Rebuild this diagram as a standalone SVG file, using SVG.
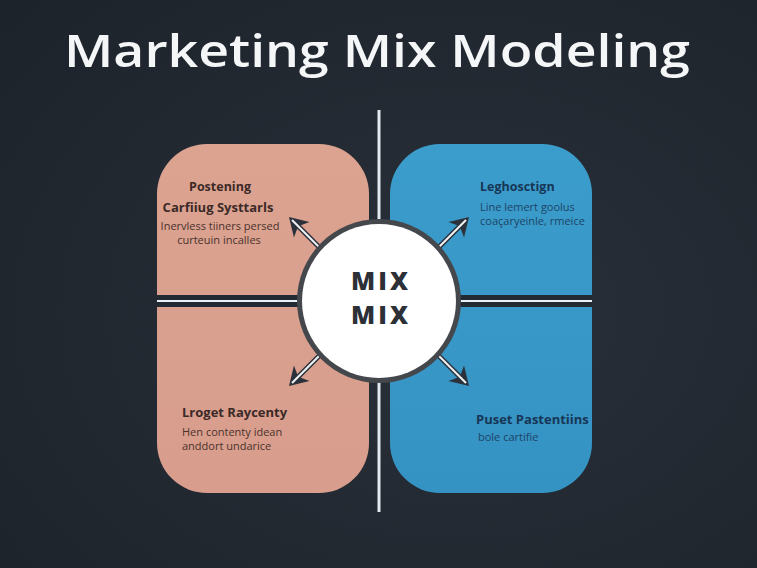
<svg xmlns="http://www.w3.org/2000/svg" width="757" height="568" viewBox="0 0 757 568">
  <defs>
    <radialGradient id="bg" cx="0.6" cy="0.55" r="0.8">
      <stop offset="0" stop-color="#2a3039"/>
      <stop offset="1" stop-color="#1d232b"/>
    </radialGradient>
    <linearGradient id="pink" x1="0" y1="0" x2="0" y2="1">
      <stop offset="0" stop-color="#dca391"/>
      <stop offset="1" stop-color="#d89d8c"/>
    </linearGradient>
    <linearGradient id="blue" x1="0" y1="0" x2="0" y2="1">
      <stop offset="0" stop-color="#3b9dcc"/>
      <stop offset="1" stop-color="#3593c3"/>
    </linearGradient>
    <path id="ah" d="M0,0 L-18,-11 L-13,0 L-18,11 z" fill="#2b323b"/>
    <style>
      .title { font-family: "Open Sans", "Liberation Sans", sans-serif; font-weight: 600; fill: #f4f6f8; }
      .hL { font-family: "Open Sans", "Liberation Sans", sans-serif; font-weight: 700; fill: #3b2a27; }
      .bL { font-family: "Open Sans", "Liberation Sans", sans-serif; font-weight: 400; fill: #4a322c; font-size: 11px; }
      .hR { font-family: "Open Sans", "Liberation Sans", sans-serif; font-weight: 700; fill: #173656; }
      .bR { font-family: "Open Sans", "Liberation Sans", sans-serif; font-weight: 400; fill: #1d4468; font-size: 11px; }
      .mix { font-family: "Open Sans", "Liberation Sans", sans-serif; font-weight: 800; fill: #2d3037; font-size: 25px; letter-spacing: 3px; }
      .arrowOut { stroke: #2b323b; stroke-width: 5; fill: none; }
      .arrowIn { stroke: #f2f4f6; stroke-width: 2; fill: none; }
    </style>
  </defs>

  <rect x="0" y="0" width="757" height="568" fill="url(#bg)"/>

  <g id="title">
    <text class="title" x="377" y="67" font-size="46" text-anchor="middle" textLength="626" lengthAdjust="spacingAndGlyphs">Marketing Mix  Modeling</text>
  </g>

  <g id="panel-left">
    <rect x="157" y="144" width="212" height="349" rx="50" ry="50" fill="url(#pink)"/>
  </g>
  <g id="panel-right">
    <rect x="390" y="144" width="202" height="349" rx="50" ry="50" fill="url(#blue)"/>
  </g>

  <g id="dividers">
    <rect x="157" y="295" width="435" height="12" fill="#232a33"/>
    <line x1="157" y1="301" x2="592" y2="301" stroke="#eef2f6" stroke-width="2"/>
    <line x1="379" y1="110" x2="379" y2="512" stroke="#e3e9f0" stroke-width="3"/>
  </g>

  <g id="connectors">
    <line class="arrowOut" x1="322" y1="250" x2="296" y2="224"/>
    <use href="#ah" transform="translate(289,217) rotate(-135)"/>
    <line class="arrowIn" x1="322" y1="250" x2="292" y2="220"/>

    <line class="arrowOut" x1="436" y1="250" x2="462" y2="224"/>
    <use href="#ah" transform="translate(469,217) rotate(-45)"/>
    <line class="arrowIn" x1="436" y1="250" x2="466" y2="220"/>

    <line class="arrowOut" x1="322" y1="353" x2="296" y2="379"/>
    <use href="#ah" transform="translate(289,386) rotate(135)"/>
    <line class="arrowIn" x1="322" y1="353" x2="292" y2="383"/>

    <line class="arrowOut" x1="436" y1="353" x2="462" y2="379"/>
    <use href="#ah" transform="translate(469,386) rotate(45)"/>
    <line class="arrowIn" x1="436" y1="353" x2="466" y2="383"/>
  </g>

  <g id="center">
    <circle cx="379" cy="301" r="82" fill="#44474c"/>
    <circle cx="379" cy="301" r="77" fill="#ffffff"/>
    <text class="mix" x="381" y="290" text-anchor="middle">MIX</text>
    <text class="mix" x="381" y="324" text-anchor="middle">MIX</text>
  </g>

  <g id="text-top-left">
    <text class="hL" x="220" y="191" font-size="12.5" text-anchor="middle">Postening</text>
    <text class="hL" x="218" y="212" font-size="13" text-anchor="middle">Carfiiug Systtarls</text>
    <text class="bL" x="220" y="230" text-anchor="middle">Inervless tiiners persed</text>
    <text class="bL" x="219" y="244" text-anchor="middle">curteuin incalles</text>
  </g>

  <g id="text-top-right">
    <text class="hR" x="480" y="191" font-size="12.5">Leghosctign</text>
    <text class="bR" x="480" y="211">Line lemert goolus</text>
    <text class="bR" x="480" y="225">coaçaryeinle, rmeice</text>
  </g>

  <g id="text-bottom-left">
    <text class="hL" x="182" y="417" font-size="13">Lroget Raycenty</text>
    <text class="bL" x="182" y="436">Hen contenty idean</text>
    <text class="bL" x="182" y="450">anddort undarice</text>
  </g>

  <g id="text-bottom-right">
    <text class="hR" x="476" y="424" font-size="13">Puset Pastentiins</text>
    <text class="bR" x="478" y="441">bole cartifie</text>
  </g>
</svg>
